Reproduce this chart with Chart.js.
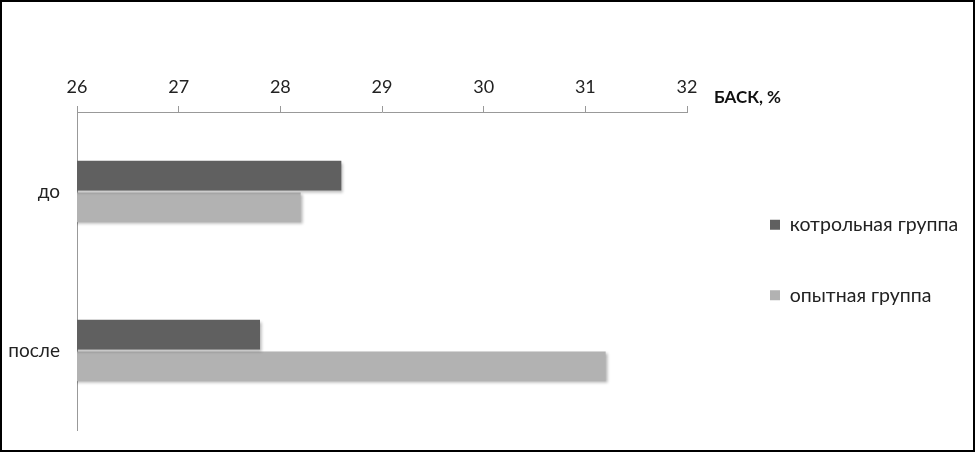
<!DOCTYPE html>
<html>
<head>
<meta charset="utf-8">
<script src="https://cdn.jsdelivr.net/npm/chart.js@4/dist/chart.umd.min.js"></script>
<style>
html,body{margin:0;padding:0;background:#fff;}
#wrap{width:975px;height:452px;position:relative;}
</style>
</head>
<body>
<div id="wrap"><canvas id="c" width="975" height="452"></canvas></div>
<script>
const categories = ['до', 'после'];
const seriesNames = ['котрольная группа', 'опытная группа'];
const controlValues = [28.6, 27.8];
const experimentValues = [28.2, 31.2];
const xMin = 26, xMax = 32, xStep = 1;
const axisTitle = 'БАСК, %';
const seriesColors = ['#606060', '#b2b2b2'];

const FONT = 'Lato, "Open Sans", sans-serif';
const LEGEND_PAD = 51;

const framePlugin = {
  id: 'frame',
  afterLayout(chart) {
    const lg = chart.legend;
    if (lg) {
      const w = lg.width;
      lg.left = chart.scales.x.right + 83 - LEGEND_PAD;
      lg.right = lg.left + w;
    }
  },
  afterDraw(chart) {
    const ctx = chart.ctx;
    ctx.save();
    ctx.strokeStyle = '#000';
    ctx.lineWidth = 2;
    ctx.strokeRect(1, 1, chart.width - 2, chart.height - 2);
    const xs = chart.scales.x;
    ctx.fillStyle = '#111';
    ctx.font = 'bold 17px ' + FONT;
    ctx.textBaseline = 'middle';
    ctx.textAlign = 'left';
    ctx.fillText(axisTitle, xs.right + 27, 98);
    ctx.restore();
  }
};

const shadowPlugin = {
  id: 'barShadow',
  beforeDatasetsDraw(chart) {
    const ctx = chart.ctx;
    ctx.save();
    ctx.shadowColor = 'rgba(0,0,0,0.30)';
    ctx.shadowBlur = 3;
    ctx.shadowOffsetX = 2;
    ctx.shadowOffsetY = 2;
  },
  afterDatasetsDraw(chart) {
    chart.ctx.restore();
  }
};

new Chart(document.getElementById('c'), {
  type: 'bar',
  data: {
    labels: categories,
    datasets: [
      { label: seriesNames[0], data: controlValues, backgroundColor: seriesColors[0], borderWidth: 0 },
      { label: seriesNames[1], data: experimentValues, backgroundColor: seriesColors[1], borderWidth: 0 }
    ]
  },
  options: {
    indexAxis: 'y',
    responsive: false,
    animation: false,
    devicePixelRatio: 1,
    datasets: { bar: { categoryPercentage: 0.4, barPercentage: 0.94 } },
    layout: { padding: { left: 0, right: 7, top: 0, bottom: 22 } },
    plugins: {
      tooltip: { enabled: false },
      legend: {
        position: 'right',
        align: 'center',
        title: { display: true, text: ' ', padding: 39, font: { size: 10 } },
        labels: {
          boxWidth: 10, boxHeight: 10, padding: LEGEND_PAD,
          color: '#222',
          font: { family: FONT, size: 19.5 }
        }
      }
    },
    scales: {
      x: {
        position: 'top',
        min: xMin, max: xMax,
        ticks: { stepSize: xStep, color: '#222', font: { family: FONT, size: 18 }, padding: 8 },
        grid: { display: true, drawOnChartArea: false, tickLength: 6, color: '#999' },
        border: { display: true, color: '#999', width: 1 },
        afterFit(s) { s.height = 112; s.paddingRight = 288; }
      },
      y: {
        position: 'left',
        ticks: { color: '#222', font: { family: FONT, size: 19 }, padding: 9 },
        grid: { display: false },
        border: { display: true, color: '#999', width: 1 },
        afterFit(s) { s.width = 77; s.paddingTop = 0; s.paddingBottom = 0; }
      }
    }
  },
  plugins: [shadowPlugin, framePlugin]
});
</script>
</body>
</html>
